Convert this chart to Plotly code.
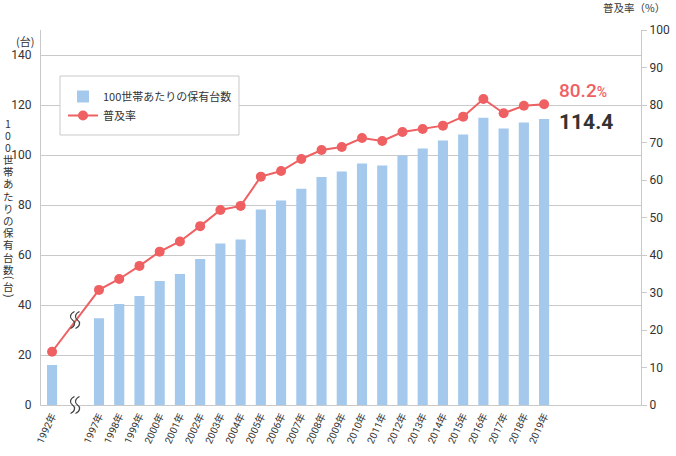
import plotly.graph_objects as go

# ---------------- data ----------------
years = ["1992年", "1997年", "1998年", "1999年", "2000年", "2001年", "2002年", "2003年",
         "2004年", "2005年", "2006年", "2007年", "2008年", "2009年", "2010年", "2011年",
         "2012年", "2013年", "2014年", "2015年", "2016年", "2017年", "2018年", "2019年"]
units = [16.0, 34.7, 40.4, 43.6, 49.6, 52.4, 58.4, 64.6, 66.2, 78.2, 81.8, 86.5,
         91.2, 93.4, 96.6, 95.8, 99.8, 102.6, 105.8, 108.2, 114.9, 110.6, 113.0, 114.4]
rates = [14.2, 30.7, 33.6, 37.1, 40.9, 43.6, 47.7, 52.0, 53.1, 60.9, 62.4, 65.6,
         68.0, 68.8, 71.2, 70.4, 72.8, 73.6, 74.5, 76.9, 81.6, 77.8, 79.8, 80.2]
left_ticks = [0, 20, 40, 60, 80, 100, 120, 140]
right_ticks = [0, 10, 20, 30, 40, 50, 60, 70, 80, 90, 100]

bar_name = "100世帯あたりの保有台数"
line_name = "普及率"
left_title_chars = ["1", "0", "0", "世", "帯", "あ", "た", "り", "の", "保", "有", "台", "数"]
# unit part of the vertical title: (text, y pixel, rotation)
left_title_unit = [("(", 278, 90), ("台", 286.5, 0), (")", 295, 90)]

# ---------------- layout constants ----------------
W, H = 676, 456
L, R, T, B = 41, 35, 30, 51
PW, PH = W - L - R, H - T - B
BLUE = "#a4c9ec"
RED = "#ef6062"
GRID = "#c9c9c9"
TXT = "#333333"
NUMF = "Roboto, 'Noto Sans CJK JP', sans-serif"
JPF = "'Noto Sans CJK JP', sans-serif"

GAP_1992 = -2.32  # 1992 sits left of the axis break
x_pos = [GAP_1992] + list(range(len(years) - 1))
XR = [-2.867, 26.79]


def px2paper(px, py):
    return (px - L) / PW, (H - B - py) / PH


fig = go.Figure()
fig.add_trace(go.Bar(x=x_pos, y=units, name=bar_name, width=0.5,
                     marker=dict(color=BLUE, line=dict(width=0))))
fig.add_trace(go.Scatter(x=x_pos, y=rates, name=line_name, yaxis="y2",
                         mode="lines+markers",
                         line=dict(color=RED, width=2),
                         marker=dict(color=RED, size=10)))

shapes = []
# legend frame
lx0, ly0 = px2paper(60, 76)
lx1, ly1 = px2paper(239, 135)
shapes.append(dict(type="rect", xref="paper", yref="paper", x0=lx0, y0=ly1, x1=lx1, y1=ly0,
                   line=dict(color=GRID, width=1), fillcolor="white", layer="above"))


# axis-break squiggles
def squiggle(cx, cy):
    out = []
    for off in (-2.5, 2.5):
        pts = [(2, -8.5), (-3, -6), (-3, -2), (0, 0), (3, 2), (3, 6), (-2, 8.5)]
        pp = [px2paper(cx + off + a, cy + b) for a, b in pts]
        p = "M{},{} C{},{} {},{} {},{} C{},{} {},{} {},{}".format(
            *[v for xy in pp for v in xy])
        out.append(dict(type="path", xref="paper", yref="paper", path=p,
                        line=dict(color="#444444", width=1.2), layer="above"))
    return out


shapes += squiggle(75, 320)
shapes += squiggle(75, 405)

annotations = []
# vertical left title (upright stacked characters)
for i, ch in enumerate(left_title_chars):
    ax, ay = px2paper(8, 123 + 12.2 * i)
    annotations.append(dict(text=ch, x=ax, y=ay, xref="paper", yref="paper",
                            showarrow=False, font=dict(family=JPF, size=10.5, color=TXT),
                            xanchor="center", yanchor="middle"))
for ch, py, rot in left_title_unit:
    ax, ay = px2paper(8, py)
    annotations.append(dict(text=ch, x=ax, y=ay, xref="paper", yref="paper", textangle=rot,
                            showarrow=False,
                            font=dict(family=NUMF if rot else JPF, size=10 if rot else 10.5,
                                      color=TXT),
                            xanchor="center", yanchor="middle"))
# unit labels
ax, ay = px2paper(25, 41)
annotations.append(dict(text="(台)", x=ax, y=ay, xref="paper", yref="paper", showarrow=False,
                        font=dict(family=JPF, size=11, color=TXT), xanchor="center", yanchor="middle"))
ax, ay = px2paper(667, 7)
annotations.append(dict(text="普及率（%）", x=ax, y=ay, xref="paper", yref="paper", showarrow=False,
                        font=dict(family=JPF, size=10.5, color=TXT), xanchor="right", yanchor="middle"))
# end-value labels
annotations.append(dict(text="{:.1f}<span style='font-size:14px'>%</span>".format(rates[-1]),
                        x=x_pos[-1] + 0.62, y=rates[-1] + 3.8, xref="x", yref="y2",
                        showarrow=False, xanchor="left", yanchor="middle",
                        font=dict(family=NUMF, size=19, color=RED, weight=500)))
annotations.append(dict(text="{:.1f}".format(units[-1]),
                        x=x_pos[-1] + 0.62, y=units[-1] - 1.2, xref="x", yref="y",
                        showarrow=False, xanchor="left", yanchor="middle",
                        font=dict(family=NUMF, size=21, color=TXT, weight=700)))

fig.update_layout(
    width=W, height=H, autosize=False,
    margin=dict(l=L, r=R, t=T, b=B, pad=0),
    paper_bgcolor="white", plot_bgcolor="white",
    showlegend=True,
    legend=dict(x=(63 - L) / PW, y=(H - B - 82) / PH, xanchor="left", yanchor="top",
                bgcolor="rgba(0,0,0,0)", borderwidth=0,
                font=dict(family=JPF, size=11, color=TXT), tracegroupgap=0),
    xaxis=dict(range=XR, tickmode="array", tickvals=x_pos, ticktext=years,
               tickangle=-65, tickfont=dict(family=NUMF, size=10, color=TXT),
               showgrid=False, zeroline=False, showline=True, linecolor=GRID, linewidth=1,
               ticks="", automargin=False),
    yaxis=dict(range=[0, 150], tickmode="array", tickvals=left_ticks,
               tickfont=dict(family=NUMF, size=12, color=TXT),
               showgrid=True, gridcolor=GRID, gridwidth=1, zeroline=False,
               showline=True, linecolor=GRID, linewidth=1, ticks="", ticklabelstandoff=6,
               automargin=False),
    yaxis2=dict(range=[0, 100], tickmode="array", tickvals=right_ticks, overlaying="y",
                side="right", tickfont=dict(family=NUMF, size=12, color=TXT),
                showgrid=False, zeroline=False, showline=True, linecolor=GRID, linewidth=1,
                ticks="outside", ticklen=5, tickcolor=GRID, automargin=False),
    shapes=shapes,
    annotations=annotations,
)

fig.write_html("out.html",
               config={"displayModeBar": False},
               post_script="document.body.style.margin='0';document.body.style.overflow='hidden';")
